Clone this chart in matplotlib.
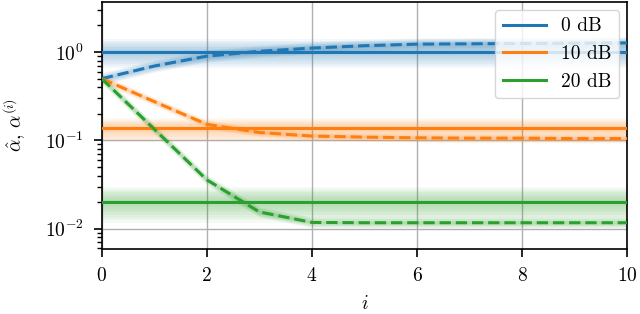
import numpy as np
import matplotlib
matplotlib.use("Agg")
import matplotlib.pyplot as plt

plt.rcParams.update({
    "font.family": "serif",
    "font.serif": ["cmr10"],
    "mathtext.fontset": "cm",
    "axes.formatter.use_mathtext": True,
    "font.size": 14,
})

# data
iters = np.arange(11)
labels = ["0 dB", "10 dB", "20 dB"]
colors = ["C0", "C1", "C2"]
alpha_hat = [1.01, 0.138, 0.0202]          # solid reference levels
alpha_iter = [
    [0.5, 0.695, 0.90, 1.02, 1.11, 1.18, 1.23, 1.24, 1.25, 1.26, 1.27],
    [0.5, 0.275, 0.152, 0.123, 0.112, 0.109, 0.107, 0.106, 0.106, 0.105, 0.105],
    [0.5, 0.134, 0.0358, 0.0155, 0.0118, 0.0117, 0.0117, 0.0117, 0.0117, 0.0117, 0.0117],
]
# faded spread around each curve, in decades (above, below)
hat_up = [0.14, 0.11, 0.17]
hat_down = [0.18, 0.16, 0.24]
iter_spread = [0.07, 0.05, 0.06]

fig = plt.figure(figsize=(6.4, 3.14), dpi=100)
ax = fig.add_axes([0.159, 0.207, 0.821, 0.787])

for k in range(3):
    c = colors[k]
    y = np.asarray(alpha_iter[k])
    for f in np.linspace(0.12, 1.0, 8):
        ax.fill_between([0, 10], alpha_hat[k] / 10 ** (hat_down[k] * f),
                        alpha_hat[k] * 10 ** (hat_up[k] * f),
                        color=c, alpha=0.05, lw=0, zorder=1)
        s2 = 10 ** (iter_spread[k] * f)
        ax.fill_between(iters, y / s2, y * s2, color=c, alpha=0.05, lw=0, zorder=1)
    ax.axhline(alpha_hat[k], color=c, lw=2.2, label=labels[k], zorder=3)
    ax.plot(iters, y, color=c, lw=2.2, ls="--", zorder=3)

ax.set_yscale("log")
ax.set_xlim(0, 10)
ax.set_ylim(0.0059, 3.7)
ax.set_xticks([0, 2, 4, 6, 8, 10])
ax.tick_params(which="major", length=6, width=1.2, pad=7)
ax.tick_params(which="minor", length=3.5, width=1.0)
ax.grid(True, which="major", color="#b0b0b0", lw=1.0)
ax.set_axisbelow(True)
ax.set_xlabel("$i$", labelpad=7)
ax.set_ylabel(r"$\hat{\alpha},\, \alpha^{(i)}$", labelpad=12)
for sp in ax.spines.values():
    sp.set_linewidth(1.2)
ax.legend(loc="upper right", fontsize=14, framealpha=0.8,
          borderaxespad=0.4, handlelength=2.2)

fig.savefig("out.png", dpi=100)
